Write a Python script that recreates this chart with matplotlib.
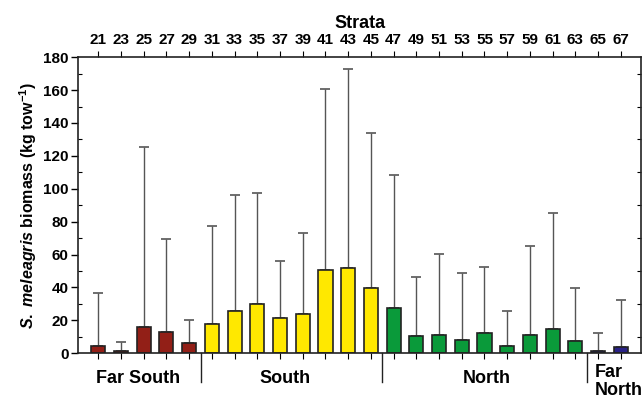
import numpy as np
import matplotlib
matplotlib.use('Agg')
import matplotlib.pyplot as plt
from matplotlib.ticker import MultipleLocator

plt.rcParams['font.family'] = ['Liberation Sans', 'DejaVu Sans']
plt.rcParams['font.weight'] = 'bold'
plt.rcParams['mathtext.fontset'] = 'custom'
plt.rcParams['mathtext.rm'] = 'Liberation Sans:bold'
plt.rcParams['mathtext.it'] = 'Liberation Sans:italic:bold'
plt.rcParams['mathtext.bf'] = 'Liberation Sans:bold'

# Datos
estratos = ['21', '23', '25', '27', '29', '31', '33', '35', '37', '39', '41', '43',
            '45', '47', '49', '51', '53', '55', '57', '59', '61', '63', '65', '67']
biomasa = [4.5, 1.4, 16, 12.8, 6.1, 18.1, 25.8, 29.9, 21.5, 23.8, 50.8, 52.0,
           39.6, 27.4, 10.4, 11.0, 8.1, 12.6, 4.5, 11.2, 14.6, 7.3, 1.6, 3.7]
error_sup = [36.6, 7.1, 125.7, 69.3, 20.5, 77.3, 96.2, 97.6, 55.9, 73.0, 160.5, 173.0,
             134.0, 108.2, 46.6, 60.2, 48.6, 52.3, 25.4, 65.3, 85.2, 39.6, 12.2, 32.5]
region = ['Far South'] * 5 + ['South'] * 8 + ['North'] * 9 + ['Far North'] * 2

colores_region = {'Far South': '#921f17', 'South': '#ffe800',
                  'North': '#0a9a3a', 'Far North': '#2a2287'}

x = np.arange(len(estratos))
colores = [colores_region[r] for r in region]
err = np.array(error_sup) - np.array(biomasa)

fig = plt.figure(figsize=(6.44, 4.0), dpi=100)
ax = fig.add_axes([0.1216, 0.1168, 0.8734, 0.7402])

ax.errorbar(x, biomasa, yerr=[np.zeros_like(err), err], fmt='none',
            ecolor='#555555', elinewidth=1.0, capsize=3.5, capthick=1.2, zorder=1)
ax.bar(x, biomasa, width=0.62, color=colores, edgecolor='#222222', linewidth=1.2, zorder=2)

ax.set_xlim(-0.88, 23.88)
ax.set_ylim(0, 180)
ax.yaxis.set_major_locator(MultipleLocator(20))
ax.yaxis.set_minor_locator(MultipleLocator(10))
ax.tick_params(axis='y', which='major', direction='out', length=5, width=1, labelsize=11,
               pad=2)
ax.tick_params(axis='y', which='minor', direction='in', length=3, width=0.8,
               left=True, right=True)

# Eje superior con los estratos
ax.set_xticks(x, estratos)
ax.tick_params(axis='x', which='major', bottom=True, top=True, labelbottom=False,
               labeltop=True, direction='out', length=4, width=0.8, labelsize=11, pad=3)
ax.xaxis.set_label_position('top')
ax.set_xlabel('Strata', fontsize=13, fontweight='bold', labelpad=4)

ax.set_ylabel(r'$\it{S.\ meleagris}$ biomass (kg tow$^{-1}$)', fontsize=11.5,
              fontweight='bold', labelpad=3)

for s in ax.spines.values():
    s.set_linewidth(1.2)
    s.set_color('#222222')

# Separadores de regiones y etiquetas
for sep in [4.5, 12.5, 21.5]:
    ax.plot([sep, sep], [0, -17.5], color='#222222', lw=1, clip_on=False)

ax.text(1.75, -15.5, 'Far South', ha='center', va='center', fontsize=13, fontweight='bold')
ax.text(8.2, -15.5, 'South', ha='center', va='center', fontsize=13, fontweight='bold')
ax.text(17.1, -15.5, 'North', ha='center', va='center', fontsize=13, fontweight='bold')
ax.text(21.85, -17, 'Far\nNorth', ha='left', va='center', fontsize=13, fontweight='bold',
        linespacing=1.1)

fig.savefig('out.png', dpi=100)
